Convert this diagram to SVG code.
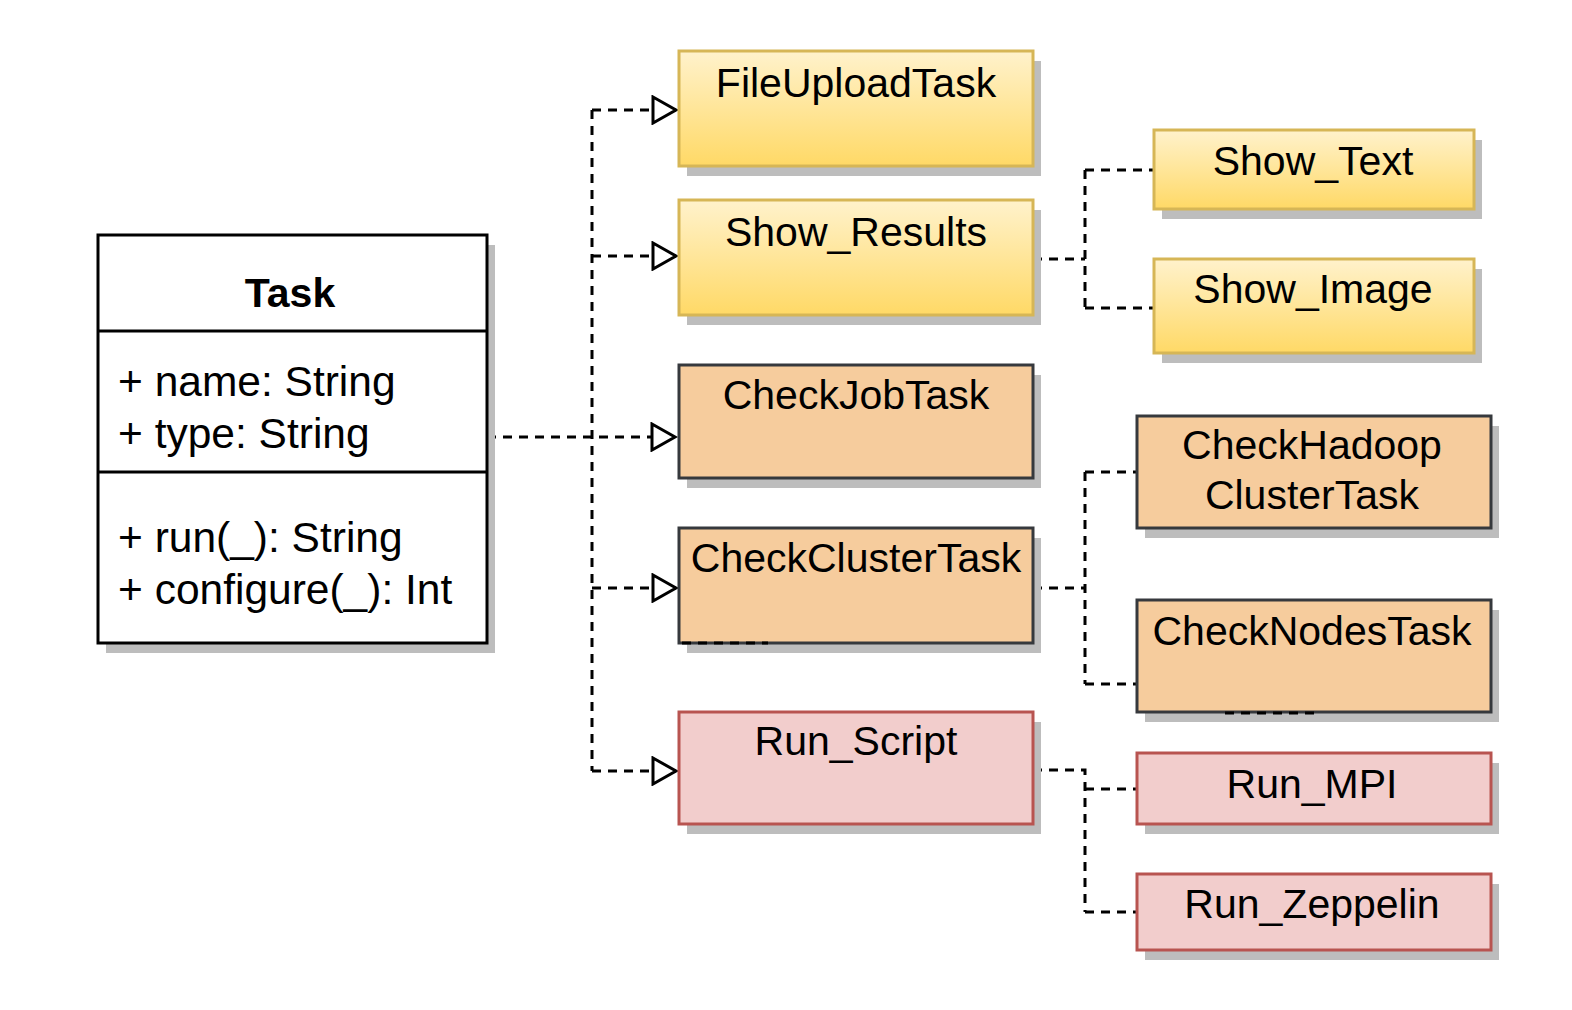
<svg xmlns="http://www.w3.org/2000/svg" width="1572" height="1010" viewBox="0 0 1572 1010">
<defs>
<linearGradient id="yg" x1="0" y1="0" x2="0" y2="1">
<stop offset="0" stop-color="#fff2cc"/>
<stop offset="1" stop-color="#ffd966"/>
</linearGradient>
<marker id="tri" markerUnits="userSpaceOnUse" markerWidth="30" markerHeight="30" viewBox="0 0 30 30" refX="26" refY="15" orient="auto">
<path d="M3,2 L26,15 L3,28 Z" fill="#ffffff" stroke="#000000" stroke-width="3" stroke-linejoin="miter"/>
</marker>
</defs>
<style>
.sh{fill:#bdbdbd}
.y{fill:url(#yg);stroke:#d6b656;stroke-width:3}
.o{fill:#f6cc9d;stroke:#36393d;stroke-width:3}
.p{fill:#f2cdcc;stroke:#b85450;stroke-width:3}
.t{font-family:"Liberation Sans",Arial,sans-serif;font-size:41px;fill:#000;text-anchor:middle}
.m{font-family:"Liberation Sans",Arial,sans-serif;font-size:42.5px;fill:#000}
.c{fill:none;stroke:#000;stroke-width:3;stroke-dasharray:9 7}
</style>
<rect width="1572" height="1010" fill="#ffffff"/>

<g id="connectors">
<path class="c" d="M487,437 L675,437" marker-end="url(#tri)"/>
<path class="c" d="M592,110 L592,771"/>
<path class="c" d="M592,110 L676,110" marker-end="url(#tri)"/>
<path class="c" d="M592,256 L676,256" marker-end="url(#tri)"/>
<path class="c" d="M592,588 L676,588" marker-end="url(#tri)"/>
<path class="c" d="M592,771 L676,771" marker-end="url(#tri)"/>
<path class="c" d="M1033,259 L1085,259 M1085,170 L1085,308 M1085,170 L1154,170 M1085,308 L1154,308"/>
<path class="c" d="M1033,588 L1085,588 M1085,472 L1085,684 M1085,472 L1137,472 M1085,684 L1137,684"/>
<path class="c" d="M1033,770 L1085,770 L1085,912 M1085,789 L1137,789 M1085,912 L1137,912"/>
</g>

<g id="task">
<rect class="sh" x="106" y="245" width="389" height="408"/>
<rect x="98" y="235" width="389" height="408" fill="#ffffff" stroke="#000" stroke-width="3"/>
<line x1="98" y1="331" x2="487" y2="331" stroke="#000" stroke-width="3"/>
<line x1="98" y1="472" x2="487" y2="472" stroke="#000" stroke-width="3"/>
<text class="t" x="290" y="307" font-weight="bold" font-size="43">Task</text>
<text class="m" x="118" y="396">+ name: String</text>
<text class="m" x="118" y="448">+ type: String</text>
<text class="m" x="118" y="552">+ run(_): String</text>
<text class="m" x="118" y="604">+ configure(_): Int</text>
</g>

<g id="fileupload">
<rect class="sh" x="687" y="61" width="354" height="115"/>
<rect class="y" x="679" y="51" width="354" height="115"/>
<text class="t" x="856" y="97">FileUploadTask</text>
</g>

<g id="showresults">
<rect class="sh" x="687" y="210" width="354" height="115"/>
<rect class="y" x="679" y="200" width="354" height="115"/>
<text class="t" x="856" y="246">Show_Results</text>
</g>

<g id="checkjob">
<rect class="sh" x="687" y="375" width="354" height="113"/>
<rect class="o" x="679" y="365" width="354" height="113"/>
<text class="t" x="856" y="409">CheckJobTask</text>
</g>

<g id="checkcluster">
<rect class="sh" x="687" y="538" width="354" height="115"/>
<rect class="o" x="679" y="528" width="354" height="115"/>
<text class="t" x="856" y="572">CheckClusterTask</text>
<path class="c" d="M682,643 L768,643"/>
</g>

<g id="runscript">
<rect class="sh" x="687" y="722" width="354" height="112"/>
<rect class="p" x="679" y="712" width="354" height="112"/>
<text class="t" x="856" y="755">Run_Script</text>
</g>

<g id="showtext">
<rect class="sh" x="1162" y="140" width="320" height="79"/>
<rect class="y" x="1154" y="130" width="320" height="79"/>
<text class="t" x="1313" y="175">Show_Text</text>
</g>

<g id="showimage">
<rect class="sh" x="1162" y="269" width="320" height="94"/>
<rect class="y" x="1154" y="259" width="320" height="94"/>
<text class="t" x="1313" y="303">Show_Image</text>
</g>

<g id="checkhadoop">
<rect class="sh" x="1145" y="426" width="354" height="112"/>
<rect class="o" x="1137" y="416" width="354" height="112"/>
<text class="t" x="1312" y="459">CheckHadoop</text>
<text class="t" x="1312" y="509">ClusterTask</text>
</g>

<g id="checknodes">
<rect class="sh" x="1145" y="610" width="354" height="112"/>
<rect class="o" x="1137" y="600" width="354" height="112"/>
<text class="t" x="1312" y="645">CheckNodesTask</text>
<path class="c" d="M1225,713 L1315,713"/>
</g>

<g id="runmpi">
<rect class="sh" x="1145" y="763" width="354" height="71"/>
<rect class="p" x="1137" y="753" width="354" height="71"/>
<text class="t" x="1312" y="798">Run_MPI</text>
</g>

<g id="runzeppelin">
<rect class="sh" x="1145" y="884" width="354" height="76"/>
<rect class="p" x="1137" y="874" width="354" height="76"/>
<text class="t" x="1312" y="918">Run_Zeppelin</text>
</g>
</svg>
